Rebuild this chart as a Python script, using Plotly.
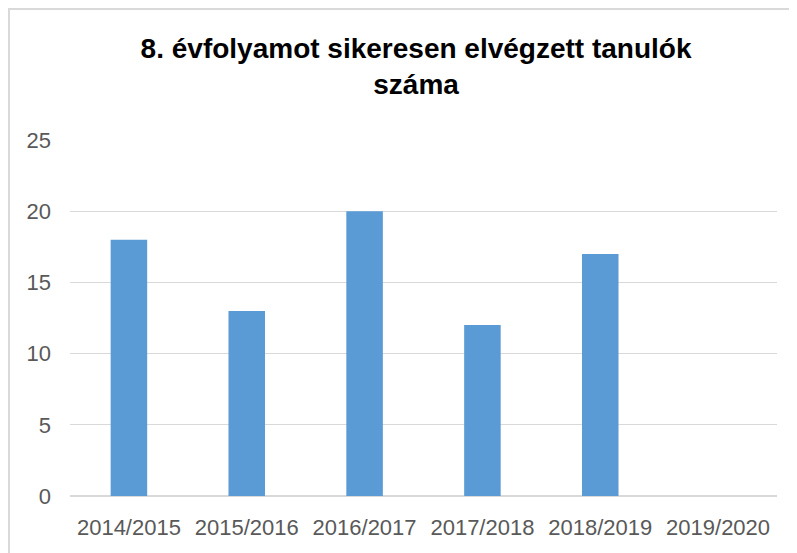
import plotly.graph_objects as go

years = ["2014/2015", "2015/2016", "2016/2017", "2017/2018", "2018/2019", "2019/2020"]
students = [18, 13, 20, 12, 17, None]

tick_font = dict(family="Liberation Sans, Arial, sans-serif", size=22, color="#595959")

fig = go.Figure()
fig.add_trace(go.Bar(x=years, y=students, marker_color="#5B9BD5", marker_line_width=0))

fig.update_layout(
    width=797,
    height=553,
    margin=dict(l=62, r=28, t=132, b=65),
    paper_bgcolor="white",
    plot_bgcolor="white",
    bargap=0.69,
    showlegend=False,
    title=dict(
        text="8. évfolyamot sikeresen elvégzett tanulók<br>száma",
        x=0.512,
        xanchor="center",
        y=0.91,
        yanchor="top",
        font=dict(family="Liberation Sans, Arial, sans-serif", size=28, color="black", weight="bold"),
    ),
    xaxis=dict(
        showgrid=False,
        tickfont=tick_font,
        ticks="",
        showline=False,
        ticklabelstandoff=16,
    ),
    yaxis=dict(
        range=[0, 25],
        dtick=5,
        showgrid=True,
        gridcolor="#D9D9D9",
        gridwidth=1,
        zeroline=True,
        zerolinecolor="#D9D9D9",
        tickfont=tick_font,
        ticks="",
        ticklabelstandoff=18,
        showline=False,
    ),
    shapes=[
        dict(
            type="rect",
            xref="paper", yref="paper",
            x0=(1 - 62) / 707, x1=(820 - 62) / 707,
            y0=(488 - 580) / 356, y1=1 + (132 - 1) / 356,
            line=dict(color="#D9D9D9", width=2),
            fillcolor="rgba(0,0,0,0)",
            layer="below",
        )
    ],
)

fig.write_html("out.html")
